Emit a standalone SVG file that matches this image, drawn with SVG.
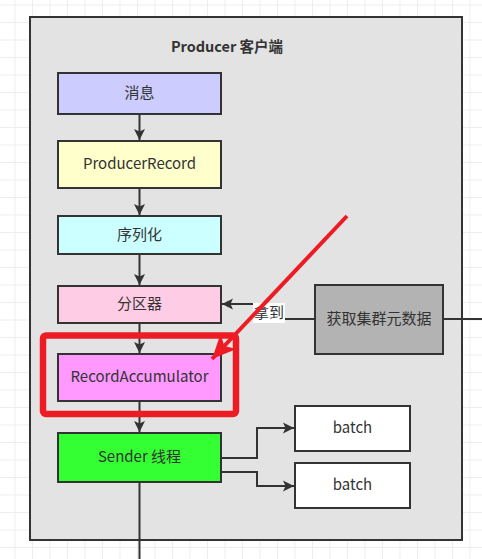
<svg xmlns="http://www.w3.org/2000/svg" width="482" height="559" viewBox="0 0 482 559">
<style>
.box{stroke:#333;stroke-width:2}
.t{font-family:"Noto Sans CJK SC","Noto Sans",sans-serif;font-size:15px;fill:#333;text-anchor:middle;dominant-baseline:central}
.c{fill:none;stroke:#333;stroke-width:2}
</style>
<defs>
<pattern id="grid" x="14.5" y="4.5" width="17.5" height="17.5" patternUnits="userSpaceOnUse">
<path d="M0 0V17.5M0 0H17.5" stroke="#ededed" stroke-width="2" fill="none"/>
</pattern>
<marker id="arr" markerUnits="userSpaceOnUse" markerWidth="12" markerHeight="12" viewBox="0 0 12 12" refX="11" refY="6" orient="auto">
<path d="M0 0.5L11 6L0 11.5L2.5 6Z" fill="#333"/>
</marker>
<marker id="red" markerUnits="userSpaceOnUse" markerWidth="26" markerHeight="24" viewBox="0 0 26 24" refX="24" refY="12" orient="auto">
<path d="M0 1L24 12L0 23L6 12Z" fill="#ed1c24"/>
</marker>
</defs>
<rect width="482" height="559" fill="#fff"/>
<rect width="482" height="559" fill="url(#grid)"/>
<g id="container">
<rect x="30" y="17" width="432" height="523" fill="#e3e3e3" stroke="#333" stroke-width="2"/>
<text x="227" y="45.5" class="t" style="font-weight:bold;font-size:14.5px">Producer 客户端</text>
</g>
<g id="connectors">
<path class="c" d="M139.5 114V140" marker-end="url(#arr)"/>
<path class="c" d="M139.5 188V215" marker-end="url(#arr)"/>
<path class="c" d="M139.5 254V285" marker-end="url(#arr)"/>
<path class="c" d="M139.5 323V353" marker-end="url(#arr)"/>
<path class="c" d="M139.5 401V432" marker-end="url(#arr)"/>
<path class="c" d="M139.5 482V559"/>
<path class="c" d="M221 458H257V428H294" marker-end="url(#arr)"/>
<path class="c" d="M221 472H257V486H294" marker-end="url(#arr)"/>
<path class="c" d="M443 319H482"/>
<path class="c" d="M315 319H269V304H222" marker-end="url(#arr)"/>
<g id="label-nadao">
<rect x="253" y="303" width="32" height="20" fill="#fff"/>
<text x="269" y="311.5" class="t">拿到</text>
</g>
</g>
<g id="n-msg"><rect class="box" x="58" y="73" width="163" height="41" fill="#ccccff"/><text x="139.5" y="91.5" class="t">消息</text></g>
<g id="n-record"><rect class="box" x="58" y="141" width="163" height="47" fill="#ffffcc"/><text x="139.5" y="162.5" class="t">ProducerRecord</text></g>
<g id="n-serialize"><rect class="box" x="58" y="216" width="163" height="38" fill="#ccffff"/><text x="139.5" y="233" class="t">序列化</text></g>
<g id="n-partition"><rect class="box" x="58" y="286" width="163" height="37" fill="#ffcce6"/><text x="139.5" y="302.5" class="t">分区器</text></g>
<g id="n-accum"><rect class="box" x="58" y="354" width="163" height="47" fill="#ff99ff"/><text x="139.5" y="375.5" class="t">RecordAccumulator</text></g>
<g id="n-sender"><rect class="box" x="58" y="433" width="163" height="49" fill="#33ff33"/><text x="139.5" y="455.5" class="t">Sender 线程</text></g>
<g id="n-batch1"><rect class="box" x="295" y="406" width="115" height="45" fill="#ffffff"/><text x="352.5" y="426.5" class="t">batch</text></g>
<g id="n-batch2"><rect class="box" x="295" y="463" width="115" height="45" fill="#ffffff"/><text x="352.5" y="483.5" class="t">batch</text></g>
<g id="n-meta"><rect class="box" x="315" y="285" width="128" height="69" fill="#b3b3b3"/><text x="379" y="317.5" class="t">获取集群元数据</text></g>
<g id="highlight">
<rect x="43" y="335.5" width="193" height="78.5" rx="3" fill="none" stroke="#ed1c24" stroke-width="6.5"/>
<path d="M347 216L212 359" stroke="#ed1c24" stroke-width="4" fill="none" marker-end="url(#red)"/>
</g>
</svg>
